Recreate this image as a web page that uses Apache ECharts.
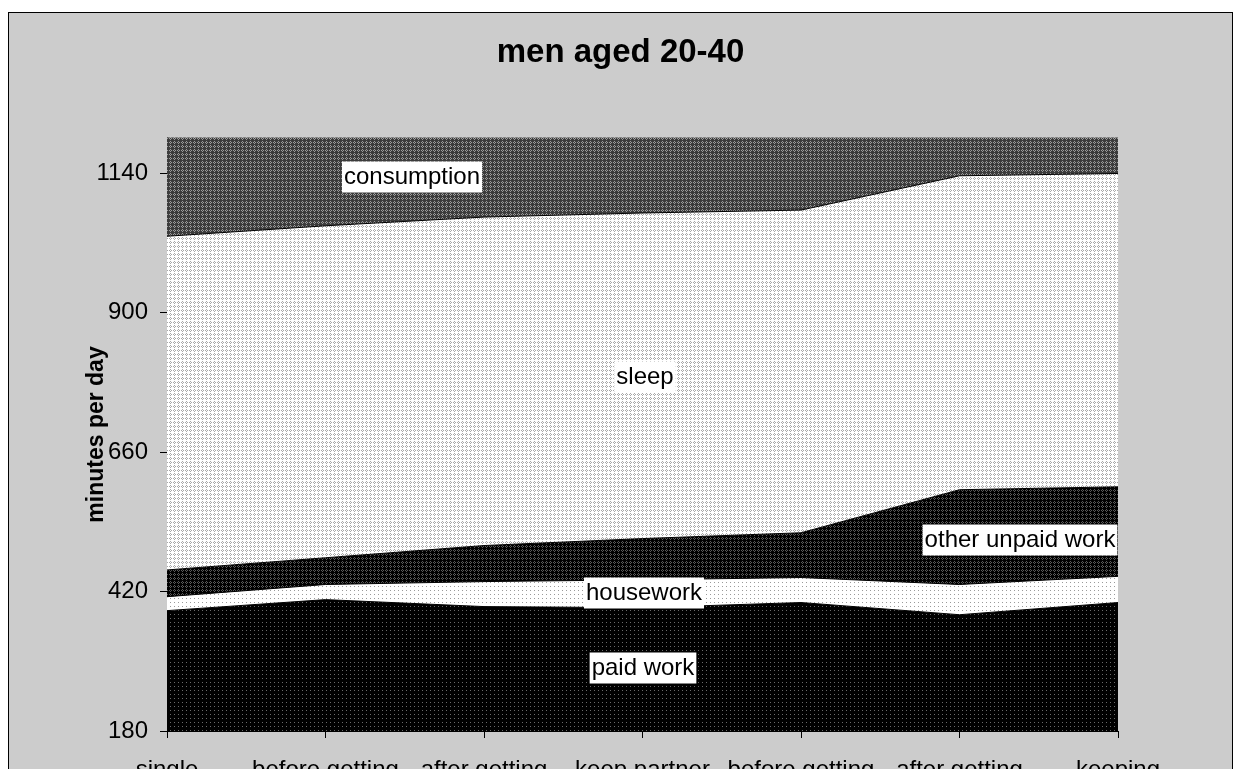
<!DOCTYPE html>
<html>
<head>
<meta charset="utf-8">
<title>men aged 20-40</title>
<script src="https://cdn.jsdelivr.net/npm/echarts@6/dist/echarts.min.js"></script>
<style>
  html, body { margin: 0; padding: 0; background: #fff; overflow: hidden; }
  #chart {
    position: absolute;
    left: 8px;
    top: 12px;
    width: 1223px;
    height: 790px;
    border: 1px solid #000;
    background: #cccccc;
  }
</style>
</head>
<body>
<div id="chart"></div>
<script>
const categories = ["single", "before getting", "after getting", "keep partner", "before getting", "after getting", "keeping"];
const paidWork = [387, 406, 394, 392, 401, 380, 401];
const housework = [24, 26, 43, 48, 43, 52, 45];
const otherUnpaid = [46, 46, 62, 71, 77, 163, 154];
const sleep = [574, 571, 565, 560, 555, 540, 539];
const consumption = [190, 180, 170, 165, 160, 120, 115];
const yTicks = [180, 420, 660, 900, 1140];

const FONT = "'Liberation Sans', Arial, sans-serif";

// little repeating tiles standing in for the excel fill patterns
function tile(size, bg, fg, pixels) {
  const c = document.createElement("canvas");
  c.width = size;
  c.height = size;
  const ctx = c.getContext("2d");
  ctx.fillStyle = bg;
  ctx.fillRect(0, 0, size, size);
  ctx.fillStyle = fg;
  pixels.forEach(([x, y]) => ctx.fillRect(x, y, 1, 1));
  return { image: c, repeat: "repeat" };
}

const ring = [[1, 0], [0, 1], [2, 1], [1, 2]];
const fills = {
  paid: tile(4, "#000", "#6a6a6a", [[1, 1]]),
  house: tile(4, "#fff", "#9a9a9a", [[1, 1]]),
  other: tile(4, "#000", "#5a5a5a", ring),
  sleep: tile(4, "#fff", "#a8a8a8", ring),
  cons: tile(4, "#3c3c3c", "#9c9c9c", ring),
};

function areaSeries(name, data, fill) {
  return {
    name,
    type: "line",
    stack: "day",
    data,
    symbol: "none",
    clip: true,
    lineStyle: { color: "#000", width: 1 },
    areaStyle: { color: fill, opacity: 1 },
  };
}

// white boxed labels, centred on x/y inside the chart div
function boxLabel(text, x, y) {
  return {
    type: "text",
    x,
    y,
    z: 100,
    style: {
      text,
      align: "center",
      verticalAlign: "middle",
      font: `24px ${FONT}`,
      fill: "#000",
      backgroundColor: "#fff",
      padding: [4, 2, 3, 2],
    },
  };
}

const chart = echarts.init(document.getElementById("chart"));

chart.setOption({
  animation: false,
  backgroundColor: "#cccccc",
  title: {
    text: "men aged 20-40",
    left: "center",
    top: 18,
    textStyle: { fontFamily: FONT, fontSize: 33, fontWeight: "bold", color: "#000" },
  },
  grid: { left: 158, top: 125, width: 951, height: 593 },
  xAxis: {
    type: "category",
    data: categories,
    boundaryGap: false,
    axisLine: { lineStyle: { color: "#000", width: 1 } },
    axisTick: { show: true, length: 7, lineStyle: { color: "#000" } },
    axisLabel: { fontFamily: FONT, fontSize: 24, color: "#000", margin: 27, interval: 0 },
    splitLine: { show: false },
  },
  yAxis: {
    type: "value",
    min: 180,
    max: 1200,
    name: "minutes per day",
    nameLocation: "middle",
    nameGap: 59,
    nameMoveOverlap: false,
    nameTextStyle: { fontFamily: FONT, fontSize: 23, fontWeight: "bold", color: "#000" },
    axisLine: { show: true, lineStyle: { color: "#000", width: 1 } },
    axisTick: { show: true, length: 7, customValues: yTicks, lineStyle: { color: "#000" } },
    axisLabel: {
      fontFamily: FONT,
      fontSize: 24,
      color: "#000",
      margin: 19,
      customValues: yTicks,
      formatter: (v) => String(v),
    },
    splitLine: { show: false },
  },
  series: [
    areaSeries("paid work", paidWork, fills.paid),
    areaSeries("housework", housework, fills.house),
    areaSeries("other unpaid work", otherUnpaid, fills.other),
    areaSeries("sleep", sleep, fills.sleep),
    areaSeries("consumption", consumption, fills.cons),
  ],
  graphic: [
    boxLabel("consumption", 403, 164),
    boxLabel("sleep", 636, 364),
    boxLabel("other unpaid work", 1011, 527),
    boxLabel("housework", 635, 580),
    boxLabel("paid work", 634, 655),
  ],
});
</script>
</body>
</html>
